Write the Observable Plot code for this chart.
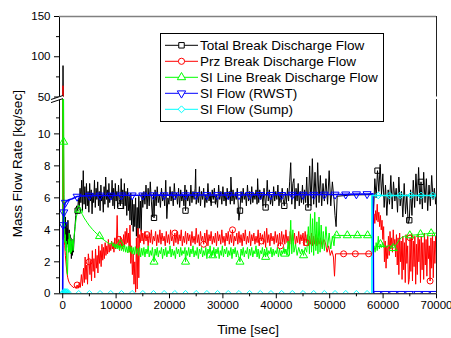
<!DOCTYPE html>
<html><head><meta charset="utf-8">
<script src="https://cdn.jsdelivr.net/npm/d3@7"></script>
<script src="https://cdn.jsdelivr.net/npm/@observablehq/plot@0.6"></script>
<style>
body{margin:0;background:#fff;}
#chart{position:relative;width:451px;height:338px;font-family:"Liberation Sans",Arial,sans-serif;}
#chart svg{position:absolute;left:0;top:0;}
</style></head><body><div id="chart"></div>
<script>
// ---- axes / ticks ----
const xDomain = [-600, 70000];
const xTicks = [0,10000,20000,30000,40000,50000,60000,70000];
const xMinor = [5000,15000,25000,35000,45000,55000,65000];
const yLowDomain = [0, 12.15];
const yLowTicks = [0,2,4,6,8,10];
const yLowMinor = [1,3,5,7,9,11];
const yHighDomain = [50, 150];
const yHighTicks = [50,100,150];
const yHighMinor = [75,125];

const seriesNames = ["Total Break Discharge Flow","Prz Break Discharge Flow","SI Line Break Discharge Flow","SI Flow (RWST)","SI Flow (Sump)"];
const seriesColors = ["#000000","#ff0000","#00ff00","#0000ff","#00ffff"];
const seriesSymbols = ["square","circle","triangle","triangle-down","diamond"];

// ---- series [time s, kg/s] ----
const totalFlow = [[0,4.6],[60,89],[120,25],[180,5.8],[260,4.3],[340,5.7],[420,3.5],[500,4.8],[580,3.2],[660,4.4],[740,2.9],[820,4.1],[900,3.1],[980,4.6],[1060,3.3],[1140,2.6],[1220,4.0],[1300,2.9],[1380,3.7],[1460,2.5],[1540,3.5],[1620,2.2],[1700,3.1],[1800,2.4],[1900,3.4],[2000,2.6],[2150,3.5],[2300,4.2],[2450,4.9],[2600,5.5],[2800,5.2],[2950,6.0],
[3100,5.4],[3250,6.6],[3400,5.7],[3550,7.1],[3700,5.2],[3850,7.7],[4000,5.6],[4150,6.7],[4300,5.3],[4450,6.9],[4600,5.5],[4750,6.4],[4900,5.1],[5050,6.9],[5200,5.8],[5350,6.5],[5500,5.0],[5650,6.3],[5800,5.7],[5950,7.1],[6100,5.4],[6250,6.6],[6400,5.9],[6550,7.0],[6700,5.5],[6850,6.4],[7000,5.2],[7150,6.8],[7300,5.8],[7450,6.2],[7600,5.1],[7750,6.7],[7900,5.6],[8050,7.3],[8200,5.9],[8350,6.5],[8500,5.4],[8650,6.9],[8800,5.7],[8950,6.3],[9100,5.9],[9250,7.1],[9400,5.5],[9550,6.6],[9700,5.3],[9850,6.9],[10000,5.8],[10150,6.4],[10300,5.4],[10450,6.8],[10600,5.9],[10800,5.5],[10950,7.2],[11100,5.7],[11250,6.5],[11400,5.3],[11550,6.9],[11700,5.5],[11850,6.4],[12000,4.9],[12150,6.6],[12300,5.2],[12450,6.1],[12600,4.6],[12750,6.3],[12900,4.3],[13050,5.9],[13200,3.9],[13350,5.6],[13500,4.2],[13650,6.0],[13800,3.6],[13950,5.4],[14100,3.5],[14250,6.1],[14400,4.1],[14550,5.8],[14700,3.9],[14850,6.3],[15000,5.4],
[15200,6.4],[15400,5.6],[15600,6.8],[15800,5.3],[16000,6.6],[16200,5.5],[16400,7.0],[16600,5.8],[16800,4.8],[17000,6.3],[17100,4.75],[17300,6.5],[17500,5.5],[17700,6.7],[17900,5.7],[18100,6.2],[18300,5.4],[18500,6.6],[18700,5.8],[18900,6.3],[19100,5.5],[19300,7.1],[19500,4.7],[19700,6.0],[19900,5.6],[20100,6.7],[20300,5.8],[20500,6.4],[20700,5.5],[20900,6.9],[21100,5.9],[21300,6.3],[21500,5.6],[21700,6.6],[21900,5.4],[22100,6.5],[22300,5.8],[22500,6.2],[22700,5.5],[22900,6.8],[23000,5.2],[23200,6.5],[23400,5.8],[23600,6.2],[23800,5.5],[24000,6.8],[24200,5.7],[24400,6.4],[24600,5.9],[24800,6.6],[24900,7.8],[25000,5.6],[25200,6.3],[25400,5.7],[25600,6.7],[25800,5.5],[26000,6.4],[26200,5.9],[26400,6.6],[26600,5.4],[26800,6.2],[27000,5.7],[27200,6.9],[27400,5.8],[27600,6.3],[27800,5.5],[28000,6.5],[28200,5.9],[28400,6.6],[28600,5.6],[28800,6.2],[29000,5.4],[29200,6.8],[29400,5.9],[29600,6.4],[29800,5.6],[30000,6.7],[30200,5.8],[30400,6.3],[30600,5.5],[30800,6.6],[31000,5.9],[31200,6.4],[31400,5.6],[31500,7.3],[31700,5.8],[31900,6.5],[32100,5.6],[32300,6.3],[32500,5.9],[32700,6.6],[32900,5.4],[33000,4.6],[33200,5.2],[33400,6.4],[33600,5.7],[33800,6.6],[34000,5.9],[34200,6.3],[34400,5.5],[34600,6.8],[34800,5.8],[35000,6.4],[35200,5.6],[35400,6.7],[35600,5.7],[35800,6.3],[36000,5.9],[36200,6.5],[36400,5.6],[36500,7.2],[36700,5.7],[36900,6.5],[37100,5.9],[37300,6.3],[37500,5.5],[37700,6.6],[37900,5.8],[38000,5.4],[38200,6.4],[38300,7.1],[38500,5.8],[38700,6.5],[38900,5.6],[39100,6.2],[39300,5.5],[39500,6.7],[39700,5.8],[39900,6.4],[40100,5.9],[40300,6.8],[40500,5.5],[40700,6.3],[40900,5.7],[41100,6.6],[41300,5.9],[41500,5.5],[41700,6.3],[41900,5.7],[42100,6.6],[42300,5.8],[42500,7.0],[42700,8.2],[42900,5.6],[43100,6.9],[43300,7.2],[43500,5.3],[43700,6.6],[43900,5.8],[44100,6.9],[44300,5.5],[44500,6.4],[44700,5.7],[44900,6.8],[45100,5.6],[45300,6.5],[45500,5.7],[45700,7.3],[45900,5.4],[46000,5.4],[46250,8.0],[46500,5.5],[46750,8.45],[47000,5.6],[47250,7.6],[47500,5.4],[47750,8.2],[48000,5.7],[48250,7.4],[48500,5.5],[48750,6.9],[49000,5.8],[49300,7.2],[49600,5.6],[49900,7.7],[50200,5.5],[50500,7.0],[50800,5.9],[51000,4.9],[51200,4.2],[51400,6.1],[54000,6.18],[58000,6.2],
[58200,5.0],[58450,7.2],[58700,6.0],[58950,7.7],[59200,6.4],[59450,8.1],[59700,6.2],[59950,7.5],[60200,5.4],[60450,6.8],[60700,4.9],[60950,6.5],[61200,5.6],[61450,7.4],[61700,5.3],[61950,7.0],[62200,5.8],[62450,6.6],[62700,5.1],[62950,7.3],[63200,5.5],[63450,6.4],[63700,4.8],[63950,6.9],[64200,5.0],[64450,6.2],[64700,4.4],[64900,4.6],[65150,6.5],[65400,4.9],[65650,7.1],[65900,5.4],[66150,7.5],[66400,5.8],[66650,7.9],[66900,5.6],[67100,7.0],[67350,5.3],[67600,7.6],[67850,5.7],[68100,7.2],[68350,5.2],[68600,6.8],[68850,5.5],[69100,7.4],[69350,5.9],[69600,6.6],[69850,5.6],[70000,6.3]];

const przFlow = [[0,3.4],[50,64],[110,22],[170,3.7],[260,3.5],[380,3.0],[500,2.4],[650,1.8],[800,1.3],[950,1.0],[1100,0.8],[1300,0.65],[1500,0.55],[1700,0.5],[1900,0.42],[2100,0.38],[2300,0.45],[2500,0.33],[2700,0.55],[2900,0.35],[3100,0.7],[3300,0.4],[3500,1.2],[3700,0.5],[3900,1.6],[4050,0.7],[4200,2.3],[4350,0.9],[4500,1.8],[4650,0.6],[4800,2.5],[4950,2.0],[5100,1.2],[5250,2.1],[5400,0.8],[5550,2.7],[5700,1.4],[5850,2.2],[6000,1.0],[6150,2.8],[6300,1.6],[6450,2.4],[6600,1.3],[6750,3.0],[6900,1.9],[7050,2.7],[7200,1.7],[7350,3.1],[7500,2.1],[7650,2.9],[7800,2.2],[7950,3.2],[8100,2.4],[8250,3.0],[8400,2.5],[8550,3.4],[8700,2.6],[8850,3.1],[9000,2.7],[9150,3.3],[9300,2.8],[9450,3.2],[9600,2.6],[9750,3.5],[9900,2.8],[10050,3.1],[10200,4.9],[10350,2.9],[10500,3.4],[10650,2.7],[10800,3.6],[10950,2.9],[11100,3.4],[11250,2.8],[11400,3.7],[11550,3.0],[11700,3.9],[11850,3.1],[12000,4.1],[12150,3.2],[12300,3.8],[12450,2.6],[12600,4.3],[12750,1.9],[12900,3.0],[13050,1.2],[13200,2.5],[13350,0.6],[13500,2.0],[13650,0.1],[13800,3.5],[13950,0.3],[14100,4.1],[14250,1.0],[14400,3.7],[14550,3.2],[14700,4.0],[14850,3.3],[15000,3.8],
[15200,3.1],[15400,3.9],[15600,3.3],[15800,3.7],[16000,3.0],[16200,3.8],[16400,3.2],[16600,4.0],[16800,3.1],[17000,3.6],[17200,3.3],[17400,3.9],[17600,3.0],[17800,3.7],[18000,3.2],[18200,4.0],[18400,3.1],[18600,3.8],[18800,3.3],[19000,3.6],[19200,3.0],[19400,3.9],[19600,3.2],[19800,3.7],[20000,3.1],[20200,4.0],[20400,3.3],[20600,3.6],[20800,3.0],[21000,3.8],[21200,3.2],[21400,3.9],[21600,3.1],[21800,3.7],[22000,3.3],[22200,4.0],[22400,3.0],[22600,3.6],[22800,3.2],[23000,3.9],[23200,3.1],[23400,3.8],[23600,3.3],[23800,3.7],[24000,3.0],[24200,3.9],[24400,3.2],[24600,3.6],[24800,3.1],[25000,4.1],[25200,3.2],[25400,3.7],[25600,3.0],[25800,3.9],[26000,3.3],[26200,3.6],[26400,3.1],[26600,3.8],[26800,3.2],[27000,4.0],[27200,3.0],[27400,3.7],[27600,3.3],[27800,3.9],[28000,3.1],[28200,3.6],[28400,3.2],[28600,3.8],[28800,3.0],[29000,3.9],[29200,3.3],[29400,3.7],[29600,3.1],[29800,4.0],[30000,3.2],[30200,3.6],[30400,3.0],[30600,3.8],[30800,3.3],[31000,3.9],[31200,3.1],[31400,3.7],[31600,3.2],[31800,4.0],[32000,3.0],[32200,3.6],[32400,3.3],[32600,3.8],[32800,3.1],[33000,3.9],[33200,3.2],[33400,3.7],[33600,3.0],[33800,3.8],[34000,3.3],[34200,4.0],[34400,3.1],[34600,3.6],[34800,3.2],[35000,3.9],[35200,3.0],[35400,3.7],[35600,3.3],[35800,3.8],[36000,3.1],[36200,3.6],[36400,3.2],[36600,4.0],[36800,3.0],[37000,3.8],[37200,3.3],[37400,3.7],[37600,3.1],[37800,3.9],[38000,2.9],[38200,4.1],[38400,3.2],[38600,3.7],[38800,3.0],[39000,3.8],[39200,3.3],[39400,3.6],[39600,3.1],[39800,3.9],[40000,3.2],[40200,3.7],[40400,3.0],[40600,3.8],[40800,3.0],[41000,3.9],[41200,3.2],[41400,3.7],[41600,3.1],[41800,4.0],[42000,3.2],[42200,3.6],[42400,2.8],[42600,3.9],[42800,3.1],[43000,3.7],[43200,3.3],[43400,3.8],[43600,3.0],[43800,3.6],[44000,3.2],[44200,3.9],[44400,3.1],[44600,3.7],[44800,3.3],[45000,3.8],[45200,3.0],[45400,3.9],[45600,3.2],[45800,3.7],[46000,3.0],[46200,3.6],[46400,3.1],[46600,3.8],[46800,3.0],[47000,3.6],[47200,3.1],[47400,3.7],[47600,3.0],[47800,3.5],[48000,3.1],[48300,3.5],[48600,2.9],[48900,3.4],[49200,3.2],[49500,2.6],[49800,3.0],[50100,2.4],[50400,2.7],[50700,2.3],[50900,1.1],[51100,2.5],[52600,2.5],[54800,2.5],[57300,2.5],[58000,2.5],
[58150,4.3],[58300,5.0],[58450,4.4],[58600,5.2],[58750,4.6],[58900,5.6],[59050,4.5],[59200,5.1],[59350,4.2],[59500,4.9],[59650,4.0],[59800,4.6],[59950,3.4],[60100,4.2],[60250,2.0],[60400,3.3],[60550,1.6],[60700,3.0],[60850,2.2],[61000,3.6],[61150,2.4],[61300,3.9],[61450,2.8],[61600,3.5],[61750,2.6],[61900,4.0],[62050,3.0],[62200,3.4],[62350,2.3],[62500,3.7],[62650,1.8],[62800,3.5],[62950,1.2],[63100,3.8],[63250,2.0],[63400,3.3],[63550,0.9],[63700,3.6],[63850,1.5],[64000,3.2],[64150,0.7],[64300,3.7],[64450,1.9],[64600,3.0],[64750,0.6],[64900,0.9],[65050,3.5],[65200,1.4],[65350,3.8],[65500,0.8],[65650,3.3],[65800,1.7],[65950,3.6],[66100,0.6],[66250,3.1],[66400,1.2],[66550,3.7],[66700,2.0],[66850,3.4],[67000,0.7],[67150,3.6],[67300,1.5],[67450,3.2],[67600,0.9],[67750,3.8],[67900,1.8],[68050,3.4],[68200,1.1],[68350,3.6],[68500,2.2],[68650,3.0],[68800,0.8],[68950,3.5],[69100,1.6],[69250,3.7],[69400,1.0],[69550,3.3],[69700,1.9],[69850,3.6],[70000,2.4]];

const siLineFlow = [[0,4.2],[40,45],[100,16],[180,9.5],[260,6.2],[340,4.3],[420,3.2],[500,3.7],[580,2.7],[660,3.3],[740,2.0],[820,1.4],[900,1.2],[980,2.3],[1060,3.4],[1140,2.6],[1220,3.8],[1300,2.7],[1380,3.5],[1460,2.5],[1540,3.3],[1650,2.6],[1800,3.4],[1950,2.7],[2100,3.5],[2250,4.0],[2400,4.4],[2550,4.8],[2700,5.0],[2850,5.15],[3000,5.25],[3150,5.3],[3300,5.2],[3450,5.1],[3700,4.95],[4000,4.75],[4300,4.6],[4600,4.45],[4900,4.3],[5200,4.18],[5600,4.02],[6000,3.88],[6400,3.75],[6900,3.6],[7400,3.45],[7900,3.32],[8400,3.2],[8900,3.1],[9200,3.25],[9400,2.95],[9600,3.15],[9800,2.85],[10000,3.1],[10200,2.8],[10400,3.05],[10600,2.75],[10800,3.1],[11000,2.7],[11200,3.0],[11400,2.65],[11600,3.05],[11800,2.6],[12000,2.95],[12200,2.55],[12400,3.0],[12600,2.6],[12800,2.95],[13000,2.5],[13200,2.9],[13400,2.45],[13600,2.95],[13800,2.5],[14000,2.85],[14200,2.4],[14400,2.9],[14600,2.3],[14800,2.85],
[15000,2.4],[15200,2.9],[15400,2.3],[15600,2.8],[15800,2.5],[16000,3.0],[16200,2.3],[16400,2.7],[16600,2.4],[16800,2.9],[17000,2.2],[17100,2.0],[17300,2.8],[17500,2.4],[17700,2.9],[17900,2.3],[18100,2.7],[18300,2.5],[18500,2.9],[18700,2.2],[18900,2.8],[19100,2.4],[19300,2.9],[19500,2.3],[19700,2.7],[19900,2.5],[20100,3.0],[20300,2.3],[20500,2.8],[20700,2.4],[20900,2.7],[21100,2.2],[21300,2.9],[21500,2.5],[21700,2.8],[21900,2.3],[22100,2.9],[22300,2.4],[22500,2.7],[22700,2.5],[22900,2.9],[23000,2.0],[23200,2.7],[23400,2.4],[23600,2.9],[23800,2.3],[24000,2.8],[24200,2.5],[24400,3.0],[24600,2.3],[24800,2.7],[25000,2.4],[25200,2.9],[25400,2.2],[25600,2.8],[25800,2.5],[26000,2.9],[26200,2.3],[26400,2.7],[26600,2.4],[26800,2.9],[27000,2.2],[27200,2.8],[27400,2.5],[27600,3.0],[27800,2.3],[28000,2.7],[28100,2.4],[28300,2.9],[28500,2.3],[28700,2.8],[28900,2.5],[29100,2.9],[29300,2.2],[29500,2.7],[29700,2.4],[29900,3.0],[30100,2.3],[30300,2.8],[30500,2.5],[30700,2.9],[30900,2.3],[31100,2.7],[31300,2.4],[31500,2.9],[31700,2.2],[31900,2.8],[32100,2.5],[32300,2.9],[32500,2.3],[32700,2.7],[32900,2.4],[33200,2.0],[33400,2.8],[33600,2.4],[33800,2.9],[34000,2.3],[34200,2.7],[34400,2.5],[34600,2.9],[34800,2.2],[35000,2.8],[35200,2.4],[35400,2.9],[35600,2.3],[35800,2.7],[36000,2.5],[36200,3.0],[36400,2.3],[36600,2.8],[36800,2.2],[37000,2.7],[37200,2.5],[37400,2.9],[37600,2.3],[37800,2.8],[38000,2.3],[38200,2.9],[38400,2.4],[38600,2.7],[38800,2.5],[39000,2.9],[39200,2.3],[39400,2.8],[39600,2.4],[39800,2.7],[40000,2.5],[40200,2.9],[40400,2.3],[40600,2.8],[40800,2.4],[41000,2.7],[41200,2.5],[41400,2.9],[41600,2.5],[41800,2.8],[42000,2.4],[42200,3.3],[42450,2.4],[42700,4.6],[42900,2.5],[43100,4.0],[43300,2.6],[43600,3.1],[43900,2.4],[44200,2.9],[44500,2.5],[44800,2.8],[45100,2.4],[45400,2.9],[45700,2.6],[46000,4.2],[46200,2.5],[46400,5.0],[46600,2.6],[46800,4.7],[47000,2.4],[47200,5.1],[47400,2.7],[47600,4.5],[47800,2.5],[48000,4.8],[48200,2.6],[48400,4.3],[48600,2.8],[48800,3.9],[49000,2.7],[49300,4.2],[49600,2.9],[49900,3.8],[50200,2.8],[50500,3.6],[50800,3.0],[51000,3.7],[51300,3.65],[53300,3.65],[55200,3.65],[57100,3.65],[57900,3.65],
[58100,2.8],[58300,3.0],[58500,2.6],[58700,3.2],[58900,2.7],[59100,3.6],[59300,2.8],[59500,3.1],[59700,2.9],[59900,3.2],[60100,2.9],[60400,3.0],[60700,2.9],[61000,3.05],[61300,2.95],[61600,3.0],[61900,2.85],[62200,2.95],[62500,3.1],[62800,3.25],[63100,3.4],[63400,3.5],[63700,3.55],[64000,3.6],[64500,3.62],[65000,3.65],[66000,3.68],[67000,3.72],[68000,3.75],[69000,3.78],[70000,3.8]];

const rwstFlow = [[0,0],[40,3.0],[100,4.3],[200,5.1],[350,5.5],[500,5.7],[800,5.8],[1200,5.88],[1800,5.95],[2700,6.08],[3500,6.12],[5000,6.14],[7000,6.15],[9000,6.15],[11000,6.16],[13000,6.16],[15000,6.16],[17000,6.17],[19000,6.17],[21000,6.17],[23000,6.17],[25000,6.18],[27000,6.18],[29000,6.18],[31000,6.18],[33000,6.18],[35000,6.19],[37000,6.19],[39000,6.19],[41000,6.19],[43000,6.2],[45000,6.2],[47000,6.2],[49000,6.21],[51000,6.21],[53000,6.22],[55000,6.23],[57000,6.24],[58100,6.25],[58200,0],[58900,0],[60400,0],[61900,0],[63400,0],[64900,0],[66500,0],[68000,0],[69500,0],[70000,0]];

const sumpFlow = [[0,0],[100,0.15],[200,0.1],[300,0.16],[400,0.12],[600,0.1],[800,0.12],[1000,0.05],[1200,0],[3000,0],[5000,0],[7000,0],[9000,0],[11000,0],[13000,0],[15000,0],[17000,0],[19000,0],[21000,0],[23000,0],[25000,0],[27000,0],[29000,0],[31000,0],[33000,0],[35000,0],[37000,0],[39000,0],[41000,0],[43000,0],[45000,0],[47000,0],[49000,0],[51000,0],[53000,0],[55000,0],[57000,0],[57900,0],[57900,6.15],[59100,6.15],[61200,6.15],[63200,6.15],[65200,6.15],[67100,6.15],[69300,6.15],[70000,6.15]];

// ---- symbol sample times ----
const totalMarkT = [2800,10800,17100,23000,28200,33200,38000,41500,46000,59000,64900,67100];
const przMarkT = [2700,4950,10500,15800,21000,26400,31800,37200,40800,45600,52600,54800,57300,65000,68800];
const siLineMarkT = [180,3000,6900,10800,17100,23000,28100,33200,38000,41600,45100,51300,53300,55200,57100,59500,61900,65000,67000,69000];
const rwstMarkT = [100,200,500,2700,5000,7000,9000,11000,13000,15000,17000,19000,21000,23000,25000,27000,29000,31000,33000,35000,37000,39000,41000,43000,45000,47000,49000,51000,53000,55000,57000,58900,60400,61900,63400,64900,66500,68000,69500];
const sumpMarkT = [0,200,400,600,800,1000,3000,5000,7000,9000,11000,13000,15000,17000,19000,21000,23000,25000,27000,29000,31000,33000,35000,37000,39000,41000,43000,45000,47000,49000,51000,53000,55000,57000,59100,61200,63200,65200,67100,69300];

const series = [totalFlow, przFlow, siLineFlow, rwstFlow, sumpFlow];
const markTimes = [totalMarkT, przMarkT, siLineMarkT, rwstMarkT, sumpMarkT];

function pick(data, times) {
  return times.map(t => data.reduce((a, b) => Math.abs(b[0] - t) < Math.abs(a[0] - t) ? b : a));
}
function plotSymbol(i) {
  return {square: "square", circle: "circle", triangle: "triangle", "triangle-down": "triangle", diamond: "diamond2"}[seriesSymbols[i]];
}

const font = "Liberation Sans, Arial, sans-serif";
const W = 451, H = 338;
const lineMarks = (withDots) => {
  const m = [];
  series.forEach((s, i) => {
    m.push(Plot.line(s, {x: d => d[0], y: d => d[1], stroke: seriesColors[i], strokeWidth: i >= 3 ? 1.6 : 1, clip: true}));
  });
  if (withDots) {
    series.forEach((s, i) => {
      m.push(Plot.dot(pick(s, markTimes[i]), {x: d => d[0], y: d => d[1], symbol: plotSymbol(i), rotate: seriesSymbols[i] === "triangle-down" ? 180 : 0, r: 3, stroke: seriesColors[i], fill: "none", strokeWidth: 1, clip: true}));
    });
  }
  return m;
};

const lower = Plot.plot({
  width: W, height: H,
  marginLeft: 59, marginRight: 15, marginTop: 99, marginBottom: 44.7,
  style: {fontFamily: font, color: "black", background: "transparent", overflow: "visible"},
  x: {domain: xDomain},
  y: {domain: yLowDomain},
  marks: [
    ...lineMarks(true),
    Plot.ruleY([yLowDomain[0]], {stroke: "black", strokeWidth: 1}),
    Plot.ruleX([xDomain[0]], {stroke: "black", strokeWidth: 1}),
    Plot.ruleX([xDomain[1]], {stroke: "#222", strokeWidth: 1}),
    Plot.axisY({ticks: yLowTicks, tickSize: 5, tickPadding: 4, fontSize: 11.5, label: null}),
    Plot.axisY({ticks: yLowMinor, tickSize: 3, tickFormat: () => "", label: null}),
    Plot.axisX({ticks: xTicks, tickSize: 5, tickPadding: 2, fontSize: 11.5, tickFormat: "d", label: null}),
    Plot.axisX({ticks: xMinor, tickSize: 3, tickFormat: () => "", label: null}),
    Plot.text(["Time [sec]"], {text: d => d, frameAnchor: "bottom", lineAnchor: "middle", textAnchor: "middle", dy: 36, fontSize: 13.5}),
    Plot.text(["Mass Flow Rate [kg/sec]"], {text: d => d, frameAnchor: "left", textAnchor: "middle", lineAnchor: "middle", rotate: -90, dx: -41.5, dy: -33, fontSize: 13.5})
  ]
});

const upper = Plot.plot({
  width: W, height: H,
  marginLeft: 59, marginRight: 15, marginTop: 16, marginBottom: H - 96.5,
  style: {fontFamily: font, color: "black", background: "transparent", overflow: "visible"},
  x: {domain: xDomain, axis: null},
  y: {domain: yHighDomain},
  marks: [
    ...lineMarks(false),
    Plot.ruleX([xDomain[0]], {stroke: "black", strokeWidth: 1}),
    Plot.ruleX([xDomain[1]], {stroke: "#222", strokeWidth: 1}),
    Plot.ruleY([yHighDomain[1]], {stroke: "#808080", strokeWidth: 1.6}),
    Plot.axisY({ticks: yHighTicks, tickSize: 5, tickPadding: 4, fontSize: 11.5, label: null}),
    Plot.axisY({ticks: yHighMinor, tickSize: 3, tickFormat: () => "", label: null})
  ]
});

const chart = document.getElementById("chart");
chart.appendChild(lower);
chart.appendChild(upper);

// overlay: axis break marks and legend
const ov = d3.create("svg").attr("width", W).attr("height", H).style("font-family", font);
const xA = lower.scale("x").apply(xDomain[0]);
const yTopLow = lower.scale("y").apply(yLowDomain[1]);
const yBotHigh = upper.scale("y").apply(yHighDomain[0]);
ov.append("path")
  .attr("d", `M${xA-8},${yBotHigh+3}L${xA+4},${yBotHigh-1}L${xA+4},${yTopLow-0.4}L${xA-8},${yTopLow+3.6}Z`)
  .attr("fill", "white");
[[yBotHigh+3, yBotHigh-1], [yTopLow+3.6, yTopLow-0.4]].forEach(([a, b]) => {
  ov.append("line").attr("x1", xA-8).attr("y1", a).attr("x2", xA+4).attr("y2", b)
    .attr("stroke", "black").attr("stroke-width", 1);
});

const lg = ov.append("g");
lg.append("rect").attr("x", 160.5).attr("y", 33.5).attr("width", 223).attr("height", 88)
  .attr("fill", "white").attr("stroke", "black").attr("stroke-width", 1);
const d3sym = {square: d3.symbolSquare, circle: d3.symbolCircle, triangle: d3.symbolTriangle, "triangle-down": d3.symbolTriangle, diamond: d3.symbolDiamond2};
seriesNames.forEach((name, i) => {
  const y = 45.3 + 16 * i;
  lg.append("line").attr("x1", 165).attr("x2", 198).attr("y1", y).attr("y2", y)
    .attr("stroke", seriesColors[i]).attr("stroke-width", 1);
  lg.append("path").attr("d", d3.symbol(d3sym[seriesSymbols[i]], 30)())
    .attr("transform", `translate(181.5,${y})` + (seriesSymbols[i] === "triangle-down" ? " rotate(180)" : ""))
    .attr("fill", "white").attr("stroke", seriesColors[i]).attr("stroke-width", 1);
  lg.append("text").attr("x", 200).attr("y", y).attr("dy", "0.35em")
    .attr("font-size", 13.5).attr("fill", "black").text(name);
});
chart.appendChild(ov.node());
</script>
</body></html>
